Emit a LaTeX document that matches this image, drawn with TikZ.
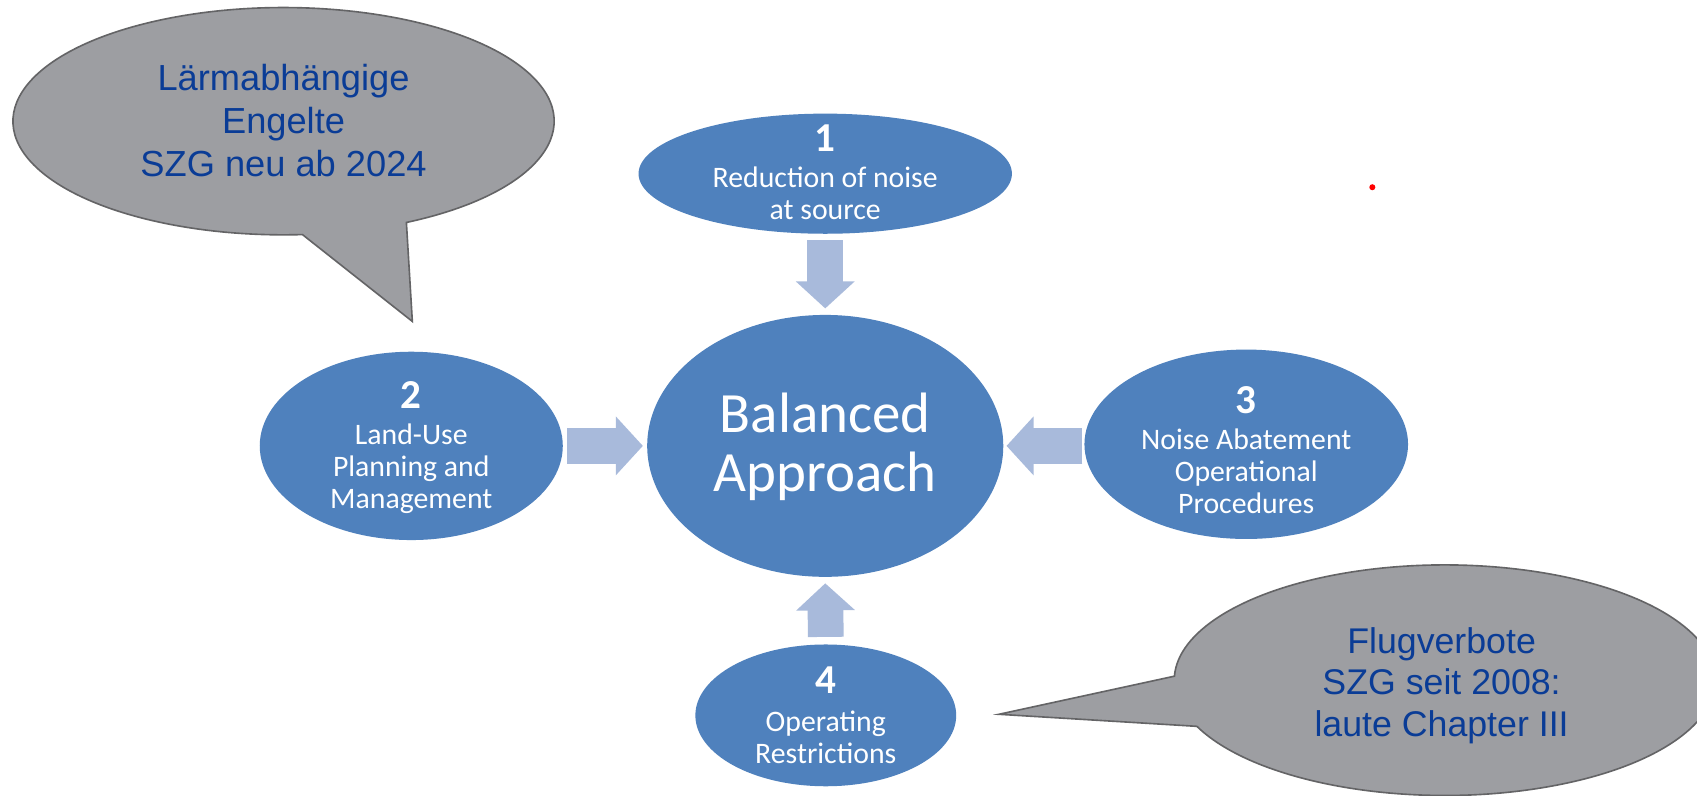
\documentclass[tikz,border=0pt]{standalone}
\usepackage{fontspec}
\newfontfamily\calib{Carlito}
\newfontfamily\arialf{Liberation Sans}
\usetikzlibrary{shapes.geometric,arrows.meta}
\definecolor{nodeblue}{RGB}{79,129,189}
\definecolor{arrowc}{RGB}{168,186,219}
\definecolor{calgray}{RGB}{157,158,162}
\definecolor{caledge}{RGB}{100,100,102}
\definecolor{caltxt}{RGB}{10,60,150}
\newcommand\nb[1]{{\fontsize{38}{38}\selectfont\bfseries #1}}
\tikzset{
  bell/.style={ellipse, fill=nodeblue, inner sep=0pt, outer sep=0pt},
  eltext/.style={text=white, align=center, inner sep=0pt, anchor=north,
    font=\calib\fontsize{27.5}{29.5}\selectfont},
  bigtext/.style={text=white, align=center, inner sep=0pt, anchor=north,
    font=\calib\fontsize{52.6}{54}\selectfont},
  barrow/.style={line width=33pt, draw=arrowc, -{Triangle[width=53pt,length=25pt]}},
  callout/.style={fill=calgray, draw=caledge, line width=1.5pt, line join=miter},
  caltext/.style={text=caltxt, align=center, inner sep=0pt, anchor=north,
    font=\arialf\fontsize{33.5}{39.5}\selectfont}
}
\begin{document}
\begin{tikzpicture}[x=1pt,y=1pt]
\useasboundingbox (0,0) rectangle (1568,735);
\fill[white] (0,0) rectangle (1568,735);
\clip (0,0) rectangle (1568,735);

% blue ellipses
\node[bell, minimum width=345pt, minimum height=111pt] (n1) at (762.5,574.5) {};
\node[bell, minimum width=329pt, minimum height=242pt] (c) at (762.5,323) {};
\node[bell, minimum width=280pt, minimum height=174pt] (n2) at (380,323) {};
\node[bell, minimum width=299pt, minimum height=175pt] (n3) at (1151.5,324.5) {};
\node[bell, minimum width=241pt, minimum height=131pt] (n4) at (763,74) {};

% texts
\node[eltext] (t1) at (762.5,620) {\nb{1}\\[3.5pt]Reduction of noise\\at source};
\node[eltext] (t2) at (380,383) {\nb{2}\\[4pt]Land-Use\\Planning and\\Management};
\node[eltext] (t3) at (1151.5,378) {\nb{3}\\[4pt]Noise Abatement\\Operational\\Procedures};
\node[eltext] (t4) at (763,119) {\nb{4}\\[6pt]Operating\\Restrictions};
\node[bigtext] (tc) at (762.5,372) {Balanced\\Approach};

% block arrows
\draw[barrow] ([yshift=-6pt]n1.south) -- ([yshift=6pt]c.north);
\draw[barrow] ([xshift=4pt]n2.east) -- ([xshift=-4pt]c.west);
\draw[barrow] ([xshift=-2pt]n3.west |- c.east) -- ([xshift=3pt]c.east);
\draw[barrow] ([yshift=7pt]n4.north) -- ([yshift=-6pt]c.south);

% callouts
\coordinate (tip1) at (381,438);
\draw[callout] (262,623) ++(-63:250 and 105)
  arc[start angle=-63, end angle=274, x radius=250, y radius=105] -- (tip1) -- cycle;
\node[caltext] (k1) at (262,675.5) {Lärmabhängige\\Engelte\\SZG neu ab 2024};

\coordinate (tip2) at (923,75);
\draw[callout] (1335,106.5) ++(203.6:250 and 106.5)
  arc[start angle=203.6, end angle=538, x radius=250, y radius=106.5] -- (tip2) -- cycle;
\node[caltext, font=\arialf\fontsize{33}{38}\selectfont] (k2) at (1332,155) {Flugverbote\\SZG seit 2008:\\laute Chapter III};

% red dot
\fill[red] (1268,562) circle (2.8);
\end{tikzpicture}
\end{document}
